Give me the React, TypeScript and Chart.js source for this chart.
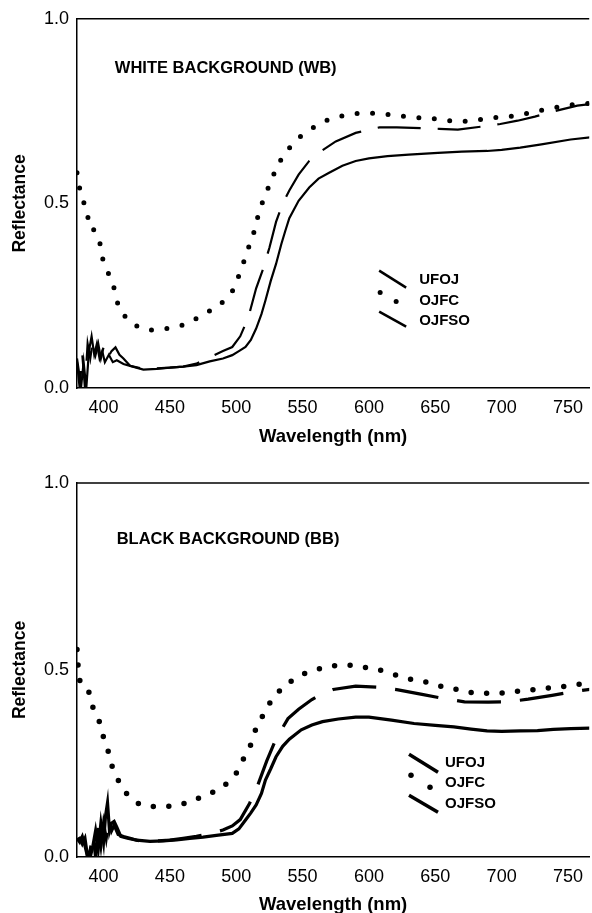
import React, { useEffect, useRef } from "react";
import { Chart, registerables } from "chart.js";

Chart.register(...registerables);

const FONT = "'Liberation Sans', Arial, Helvetica, sans-serif";

const xTicks = [400, 450, 500, 550, 600, 650, 700, 750];
const yTicks = [0, 0.5, 1.0];
const seriesNames = ["UFOJ", "OJFC", "OJFSO"];
const xTitle = "Wavelength (nm)";
const yTitle = "Reflectance";
const wbLabel = "WHITE BACKGROUND (WB)";
const bbLabel = "BLACK BACKGROUND (BB)";

// ---------- White background ----------
const wbUfojNm = [380, 382, 384, 386, 388, 390, 392, 394, 396, 398, 400, 403, 406, 409, 412, 415, 420, 430, 440, 450, 460, 470, 480, 490, 497, 503, 509, 515, 520, 525, 530, 535, 540, 547, 555, 562, 575, 590, 608, 621, 640, 653, 667, 685, 699, 712, 725, 739, 757, 770];
const wbUfojR = [0.07, 0.0, 0.09, 0.0, 0.12, 0.08, 0.13, 0.09, 0.12, 0.08, 0.11, 0.08, 0.1, 0.11, 0.09, 0.08, 0.06, 0.052, 0.053, 0.055, 0.058, 0.066, 0.083, 0.1, 0.111, 0.14, 0.19, 0.27, 0.32, 0.38, 0.45, 0.5, 0.535, 0.578, 0.615, 0.637, 0.668, 0.691, 0.706, 0.706, 0.704, 0.702, 0.7, 0.708, 0.715, 0.724, 0.735, 0.749, 0.765, 0.77];

const wbOjfcNm = [380, 382, 385, 388, 390, 393, 398, 400, 405, 409, 412, 420, 431, 443, 454, 465, 475, 487, 497, 502, 506, 510, 514, 517, 521, 526, 531, 538, 548, 561, 572, 585, 597, 608, 620, 631, 643, 655, 666, 678, 690, 702, 713, 725, 737, 749, 759, 770];
const wbOjfcR = [0.583, 0.541, 0.504, 0.462, 0.464, 0.424, 0.384, 0.34, 0.3, 0.258, 0.215, 0.181, 0.158, 0.16, 0.164, 0.179, 0.199, 0.224, 0.262, 0.305, 0.345, 0.388, 0.43, 0.474, 0.515, 0.558, 0.601, 0.641, 0.68, 0.712, 0.73, 0.74, 0.745, 0.743, 0.739, 0.734, 0.731, 0.727, 0.722, 0.724, 0.731, 0.734, 0.739, 0.749, 0.757, 0.765, 0.769, 0.772];

const wbOjfsoNm = [380, 382, 383, 385, 387, 389, 391, 393, 395, 397, 399, 401, 404, 407, 410, 415, 420, 430, 440, 450, 460, 470, 480, 490, 497, 502, 507, 511, 515, 519, 522, 526, 530, 534, 537, 540, 547, 555, 562, 570, 580, 590, 600, 614, 630, 652, 670, 689, 700, 714, 730, 752, 770];
const wbOjfsoR = [0.08, 0.03, 0.0, 0.07, 0.0, 0.1, 0.14, 0.09, 0.12, 0.08, 0.1, 0.07, 0.09, 0.07, 0.075, 0.065, 0.06, 0.05, 0.052, 0.055, 0.058, 0.062, 0.072, 0.08, 0.089, 0.1, 0.111, 0.13, 0.161, 0.2, 0.237, 0.29, 0.336, 0.39, 0.426, 0.46, 0.507, 0.543, 0.567, 0.583, 0.602, 0.615, 0.622, 0.628, 0.632, 0.637, 0.64, 0.642, 0.645, 0.651, 0.66, 0.673, 0.68];

// ---------- Black background ----------
const bbUfojNm = [380, 382, 384, 386, 388, 390, 392, 394, 396, 398, 400, 402, 404, 406, 408, 411, 415, 420, 425, 430, 440, 450, 460, 470, 480, 490, 497, 503, 510, 516, 523, 530, 539, 547, 557, 565, 573, 590, 607, 622, 640, 656, 672, 690, 705, 720, 738, 754, 770];
const bbUfojR = [0.05, 0.04, 0.055, 0.03, 0.0, 0.02, 0.06, 0.0, 0.08, 0.03, 0.09, 0.05, 0.1, 0.07, 0.085, 0.06, 0.055, 0.05, 0.045, 0.042, 0.043, 0.045, 0.05, 0.055, 0.062, 0.072, 0.083, 0.1, 0.143, 0.19, 0.257, 0.316, 0.37, 0.395, 0.421, 0.437, 0.448, 0.457, 0.454, 0.447, 0.435, 0.424, 0.415, 0.414, 0.415, 0.422, 0.432, 0.442, 0.45];

const bbOjfcNm = [380, 381, 383, 389, 392, 397, 400, 404, 407, 413, 420, 430, 441, 453, 465, 477, 488, 499, 505, 511, 515, 521, 528, 539, 550, 562, 573, 585, 597, 608, 620, 632, 644, 656, 668, 679, 691, 703, 714, 726, 738, 749, 761, 770];
const bbOjfcR = [0.555, 0.505, 0.462, 0.44, 0.4, 0.36, 0.32, 0.277, 0.237, 0.193, 0.159, 0.137, 0.135, 0.137, 0.148, 0.166, 0.183, 0.219, 0.259, 0.301, 0.344, 0.384, 0.426, 0.464, 0.488, 0.503, 0.511, 0.513, 0.507, 0.5, 0.487, 0.475, 0.467, 0.455, 0.447, 0.439, 0.438, 0.439, 0.444, 0.448, 0.453, 0.457, 0.463, 0.466];

const bbOjfsoNm = [380, 382, 384, 386, 388, 390, 392, 394, 396, 398, 400, 401.5, 403, 404.5, 406, 408, 410, 413, 418, 425, 435, 445, 455, 465, 475, 485, 497, 502, 507, 511, 515, 519, 522, 526, 530, 535, 540, 549, 557, 565, 577, 590, 600, 617, 634, 650, 664, 677, 689, 700, 714, 727, 739, 752, 770];
const bbOjfsoR = [0.045, 0.05, 0.035, 0.05, 0.0, 0.0, 0.03, 0.07, 0.02, 0.09, 0.04, 0.11, 0.145, 0.07, 0.09, 0.095, 0.08, 0.055, 0.05, 0.045, 0.042, 0.043, 0.046, 0.05, 0.053, 0.058, 0.063, 0.075, 0.099, 0.118, 0.139, 0.17, 0.206, 0.236, 0.268, 0.296, 0.315, 0.34, 0.353, 0.362, 0.369, 0.374, 0.374, 0.366, 0.357, 0.352, 0.348, 0.342, 0.337, 0.336, 0.337, 0.338, 0.341, 0.343, 0.345];

const toPts = (xs: number[], ys: number[]) => xs.map((x, i) => ({ x, y: ys[i] }));

type Panel = {
  label: string;
  labelAt: [number, number];
  legendAt: [number, number];
  legend: { line1: number[]; dots: number[]; line2: number[]; textX: number; textY: number[] };
  lw: number;
  dotW: number;
  dotGap: number;
  dash: number[];
  padTop: number;
  xAxisH: number;
  titlePadBottom: number;
  ufoj: { x: number; y: number }[];
  ojfc: { x: number; y: number }[];
  ojfso: { x: number; y: number }[];
};

const decorPlugin = {
  id: "decor",
  afterDatasetsDraw(chart: any, _args: any, opts: any) {
    const p: Panel = opts.panel;
    const { ctx, chartArea } = chart;
    const xs = chart.scales.x;
    const ys = chart.scales.y;
    ctx.save();
    // top frame line
    ctx.strokeStyle = "#000";
    ctx.lineWidth = 1.5;
    ctx.beginPath();
    ctx.moveTo(chartArea.left, chartArea.top);
    ctx.lineTo(chartArea.right, chartArea.top);
    ctx.stroke();
    // panel label
    ctx.fillStyle = "#000";
    ctx.font = `bold 16.5px ${FONT}`;
    ctx.textAlign = "left";
    ctx.textBaseline = "middle";
    ctx.fillText(p.label, xs.getPixelForValue(p.labelAt[0]), ys.getPixelForValue(p.labelAt[1]));
    // legend
    const ax = xs.getPixelForValue(p.legendAt[0]);
    const ay = ys.getPixelForValue(p.legendAt[1]);
    const L = p.legend;
    ctx.lineWidth = p.lw + 0.3;
    ctx.lineCap = "butt";
    ctx.beginPath();
    ctx.moveTo(ax + L.line1[0], ay + L.line1[1]);
    ctx.lineTo(ax + L.line1[2], ay + L.line1[3]);
    ctx.stroke();
    ctx.beginPath();
    ctx.moveTo(ax + L.line2[0], ay + L.line2[1]);
    ctx.lineTo(ax + L.line2[2], ay + L.line2[3]);
    ctx.stroke();
    for (let i = 0; i < L.dots.length; i += 2) {
      ctx.beginPath();
      ctx.arc(ax + L.dots[i], ay + L.dots[i + 1], p.dotW / 2, 0, Math.PI * 2);
      ctx.fill();
    }
    ctx.font = `bold 15px ${FONT}`;
    seriesNames.forEach((n, i) => {
      ctx.fillText(n, ax + L.textX, ay + L.textY[i]);
    });
    ctx.restore();
  },
};

function makeConfig(p: Panel): any {
  return {
    type: "line",
    data: {
      datasets: [
        {
          label: seriesNames[0],
          data: p.ufoj,
          borderColor: "#000",
          borderWidth: p.lw,
          borderDash: p.dash,
          pointRadius: 0,
          tension: 0,
          fill: false,
        },
        {
          label: seriesNames[1],
          data: p.ojfc,
          borderColor: "#000",
          borderWidth: p.dotW,
          borderDash: [0, p.dotGap],
          borderCapStyle: "round",
          pointRadius: 0,
          tension: 0.3,
          fill: false,
        },
        {
          label: seriesNames[2],
          data: p.ojfso,
          borderColor: "#000",
          borderWidth: p.lw,
          pointRadius: 0,
          tension: 0,
          fill: false,
        },
      ],
    },
    options: {
      animation: false,
      responsive: false,
      events: [],
      layout: { padding: { top: p.padTop, right: 0, bottom: 0, left: 0 } },
      plugins: {
        legend: { display: false },
        tooltip: { enabled: false },
        decor: { panel: p },
      },
      scales: {
        x: {
          type: "linear",
          min: 380,
          max: 766,
          afterBuildTicks: (s: any) => {
            s.ticks = xTicks.map((v) => ({ value: v }));
          },
          afterFit: (s: any) => {
            s.height = p.xAxisH;
          },
          grid: { display: false, drawTicks: false },
          border: { display: true, color: "#000", width: 1.5 },
          ticks: {
            color: "#000",
            padding: 9,
            maxRotation: 0,
            autoSkip: false,
            font: { family: FONT, size: 18 },
          },
          title: {
            display: true,
            text: xTitle,
            color: "#000",
            font: { family: FONT, size: 18.5, weight: "bold" },
            padding: { top: 0, bottom: p.titlePadBottom },
          },
        },
        y: {
          type: "linear",
          min: 0,
          max: 1,
          afterBuildTicks: (s: any) => {
            s.ticks = yTicks.map((v) => ({ value: v }));
          },
          afterFit: (s: any) => {
            s.width = 77;
          },
          grid: { display: false, drawTicks: false },
          border: { display: true, color: "#000", width: 1.5 },
          ticks: {
            color: "#000",
            padding: 8,
            font: { family: FONT, size: 18 },
            callback: (v: number) => v.toFixed(1),
          },
          title: {
            display: true,
            text: yTitle,
            color: "#000",
            font: { family: FONT, size: 17.5, weight: "bold" },
            padding: { top: 10, bottom: 0 },
          },
        },
      },
    },
    plugins: [decorPlugin],
  };
}

const wbPanel: Panel = {
  label: wbLabel,
  labelAt: [408.5, 0.865],
  legendAt: [607.7, 0.318],
  legend: { line1: [0, 0, 27, 17], dots: [1, 22, 17, 31], line2: [0, 41, 27, 56], textX: 40, textY: [9, 30, 50] },
  lw: 2.2,
  dotW: 5,
  dotGap: 15.5,
  dash: [43, 17],
  padTop: 17,
  xAxisH: 62,
  titlePadBottom: 2,
  ufoj: toPts(wbUfojNm, wbUfojR),
  ojfc: toPts(wbOjfcNm, wbOjfcR),
  ojfso: toPts(wbOjfsoNm, wbOjfsoR),
};

const bbPanel: Panel = {
  label: bbLabel,
  labelAt: [409.9, 0.848],
  legendAt: [630.2, 0.275],
  legend: { line1: [0, 0, 29, 18], dots: [2, 21, 21, 33], line2: [0, 41, 29, 58], textX: 36, textY: [9, 29, 50] },
  lw: 3.2,
  dotW: 5.5,
  dotGap: 15.5,
  dash: [44, 19],
  padTop: 33,
  xAxisH: 63,
  titlePadBottom: 4,
  ufoj: toPts(bbUfojNm, bbUfojR),
  ojfc: toPts(bbOjfcNm, bbOjfcR),
  ojfso: toPts(bbOjfsoNm, bbOjfsoR),
};

function ChartCanvas({ panel, top, height }: { panel: Panel; top: number; height: number }) {
  const ref = useRef<HTMLCanvasElement | null>(null);
  useEffect(() => {
    if (!ref.current) return;
    const chart = new Chart(ref.current, makeConfig(panel));
    return () => chart.destroy();
  }, [panel]);
  return (
    <canvas
      ref={ref}
      width={592}
      height={height}
      style={{ position: "absolute", left: 0, top, width: 592, height, display: "block" }}
    />
  );
}

export default function App() {
  return (
    <div
      style={{
        position: "absolute",
        left: 0,
        top: 0,
        width: 592,
        height: 913,
        overflow: "hidden",
        background: "#fff",
      }}
    >
      <ChartCanvas panel={wbPanel} top={0} height={450} />
      <ChartCanvas panel={bbPanel} top={450} height={470} />
    </div>
  );
}
